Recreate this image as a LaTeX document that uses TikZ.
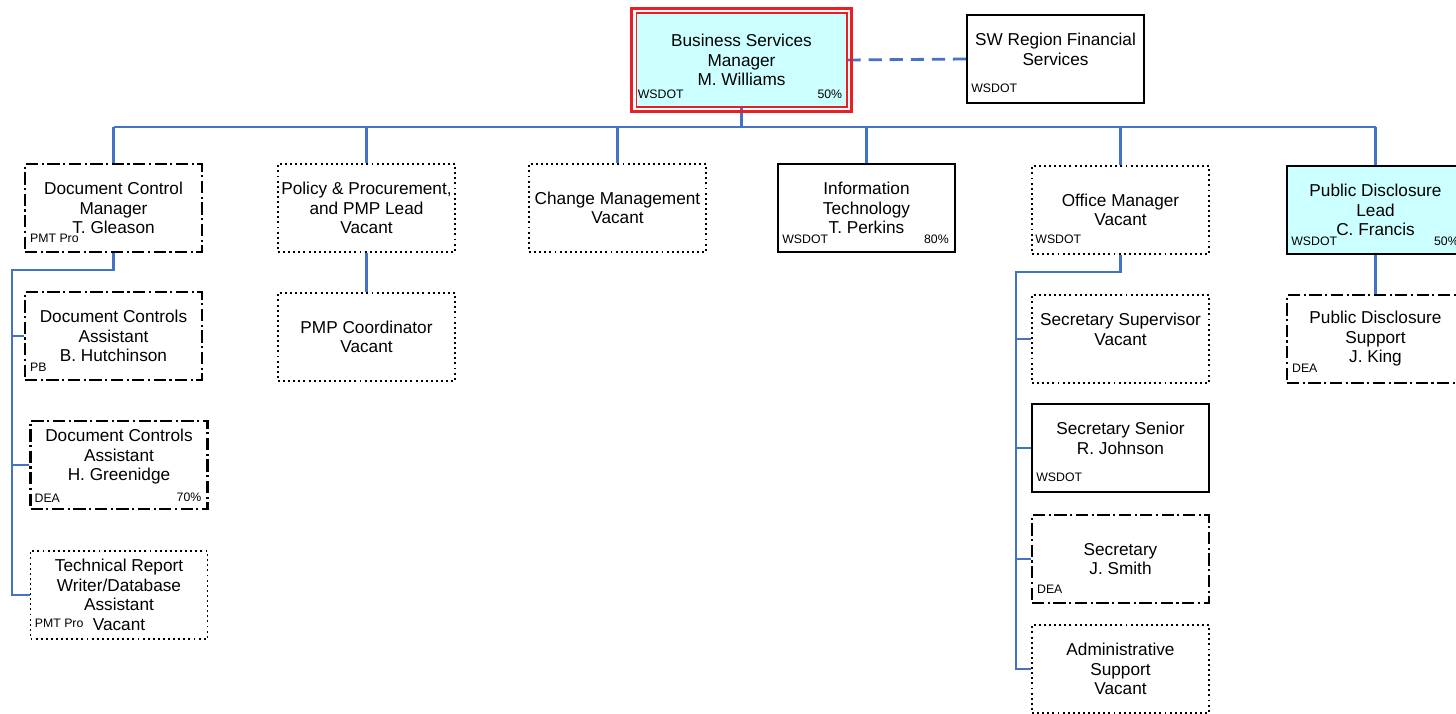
\documentclass[tikz,border=0pt]{standalone}
\usepackage{fontspec}
\setmainfont{Liberation Sans}
\usepackage{tikz}
\usetikzlibrary{positioning}
\usepackage{xcolor}
\definecolor{orgblue}{RGB}{68, 114, 196}
\definecolor{lightcyan}{RGB}{204, 255, 255}
\definecolor{framered}{RGB}{235, 30, 35}

\begin{document}
\begin{tikzpicture}[
    x=0.02cm, y=-0.02cm,
    font=\fontsize{9.8}{11.1}\selectfont,
    box/.style={rectangle, align=center, inner sep=0pt,
                minimum width=3.54cm, minimum height=1.76cm},
    solidbox/.style={box, draw, line width=1.2pt},
    dotbox/.style={box, draw, line width=1.1pt, dash pattern=on 1.1pt off 1.8pt},
    dashdotbox/.style={box, draw, line width=1.4pt,
                dash pattern=on 7pt off 2pt on 1.2pt off 2pt},
    tag/.style={font=\fontsize{7}{8}\selectfont, inner sep=0pt},
    conn/.style={draw=orgblue, line width=1.5pt},
  ]
    \useasboundingbox (0,0) rectangle (1456,713);
    \clip (0,0) rectangle (1456,713);

    % top level
    \node[box, fill=lightcyan, draw=framered, line width=0.6pt,
          minimum width=4.22cm, minimum height=1.88cm]
      (bsm) at (741.5,60) {Business Services\\Manager\\M. Williams};
    \node[solidbox] (swr) at (1055.5,59) {SW Region Financial\\Services\\\mbox{}};

    % first row
    \node[dashdotbox] (dcm) at (113.5,208) {Document Control\\Manager\\T. Gleason};
    \node[dotbox] (ppl) at (366.5,208) {Policy \& Procurement,\\and PMP Lead\\Vacant};
    \node[dotbox] (chm) at (617.5,208) {Change Management\\Vacant};
    \node[solidbox] (itp) at (866.5,208) {Information\\Technology\\T. Perkins};
    \node[dotbox] (ofm) at (1120.5,210) {Office Manager\\Vacant};
    \node[solidbox, fill=lightcyan] (pdl) at (1375.5,210) {Public Disclosure\\Lead\\C. Francis};

    % lower rows
    \node[dashdotbox] (dca1) at (113.5,336) {Document Controls\\Assistant\\B. Hutchinson};
    \node[dashdotbox] (dca2) at (119,465) {Document Controls\\Assistant\\H. Greenidge\\\mbox{}};
    \node[dotbox] (trw) at (119,595) {Technical Report\\Writer/Database\\Assistant\\Vacant};
    \node[dotbox] (pmp) at (366.5,337) {PMP Coordinator\\Vacant};
    \node[dotbox] (ssv) at (1120.5,339) {Secretary Supervisor\\Vacant\\\mbox{}};
    \node[solidbox] (ssr) at (1120.5,448) {Secretary Senior\\R. Johnson\\\mbox{}};
    \node[dashdotbox] (sjs) at (1120.5,559) {Secretary\\J. Smith};
    \node[dotbox] (ads) at (1120.5,669) {Administrative\\Support\\Vacant};
    \node[dashdotbox] (pds) at (1375.5,339) {Public Disclosure\\Support\\J. King};

    % agency and percentage tags
    \node[tag, anchor=base west] (bsm-ag) at ([shift={(2,-9)}]bsm.south west) {WSDOT};
    \node[tag, anchor=base east] (bsm-pc) at ([shift={(-5,-9)}]bsm.south east) {50\%};
    \node[tag, anchor=base west] (swr-ag) at ([shift={(5,-12)}]swr.south west) {WSDOT};
    \node[tag, anchor=base west] (dcm-ag) at ([shift={(6,-11)}]dcm.south west) {PMT Pro};
    \node[tag, anchor=base west] (itp-ag) at ([shift={(5,-10)}]itp.south west) {WSDOT};
    \node[tag, anchor=base east] (itp-pc) at ([shift={(-7,-10)}]itp.south east) {80\%};
    \node[tag, anchor=base west] (ofm-ag) at ([shift={(4,-11)}]ofm.south west) {WSDOT};
    \node[tag, anchor=base west] (pdl-ag) at ([shift={(5,-10)}]pdl.south west) {WSDOT};
    \node[tag, anchor=base east] (pdl-pc) at ([shift={(-6,-10)}]pdl.south east) {50\%};
    \node[tag, anchor=base west] (dca1-ag) at ([shift={(6,-10)}]dca1.south west) {PB};
    \node[tag, anchor=base west] (dca2-ag) at ([shift={(5,-8)}]dca2.south west) {DEA};
    \node[tag, anchor=base east] (dca2-pc) at ([shift={(-7,-9)}]dca2.south east) {70\%};
    \node[tag, anchor=base west] (trw-ag) at ([shift={(5,-12)}]trw.south west) {PMT Pro};
    \node[tag, anchor=base west] (ssr-ag) at ([shift={(5,-12)}]ssr.south west) {WSDOT};
    \node[tag, anchor=base west] (sjs-ag) at ([shift={(6,-11)}]sjs.south west) {DEA};
    \node[tag, anchor=base west] (pds-ag) at ([shift={(6,-12)}]pds.south west) {DEA};

    % connectors
    \coordinate (bus) at (0,127);
    \coordinate (dcbus) at (12,270);
    \coordinate (ofbus) at (1016,272);

    \draw[conn, dash pattern=on 7.5pt off 4.5pt, line width=1.6pt] (bsm.east) -- (swr.west);
    \draw[conn] (bsm.south) -- (bsm.south |- bus);
    \draw[conn] (dcm.north |- bus) -- (pdl.north |- bus);
    \foreach \n in {dcm, ppl, chm, itp, ofm, pdl}
      \draw[conn] (\n.north |- bus) -- (\n.north);

    \draw[conn] (dcm.south) |- (dcbus) -- (dcbus |- trw.west) -- (trw.west);
    \foreach \n in {dca1, dca2}
      \draw[conn] (dcbus |- \n.west) -- (\n.west);

    \draw[conn] (ppl.south) -- (pmp.north);
    \draw[conn] (pdl.south) -- (pds.north);

    \draw[conn] (ofm.south) |- (ofbus) -- (ofbus |- ads.west) -- (ads.west);
    \foreach \n in {ssv, ssr, sjs}
      \draw[conn] (ofbus |- \n.west) -- (\n.west);

    % outer frame of the manager box
    \draw[framered, line width=1.6pt] ([shift={(-4,-4)}]bsm.north west)
      rectangle ([shift={(4,4)}]bsm.south east);
  \end{tikzpicture}
\end{document}
